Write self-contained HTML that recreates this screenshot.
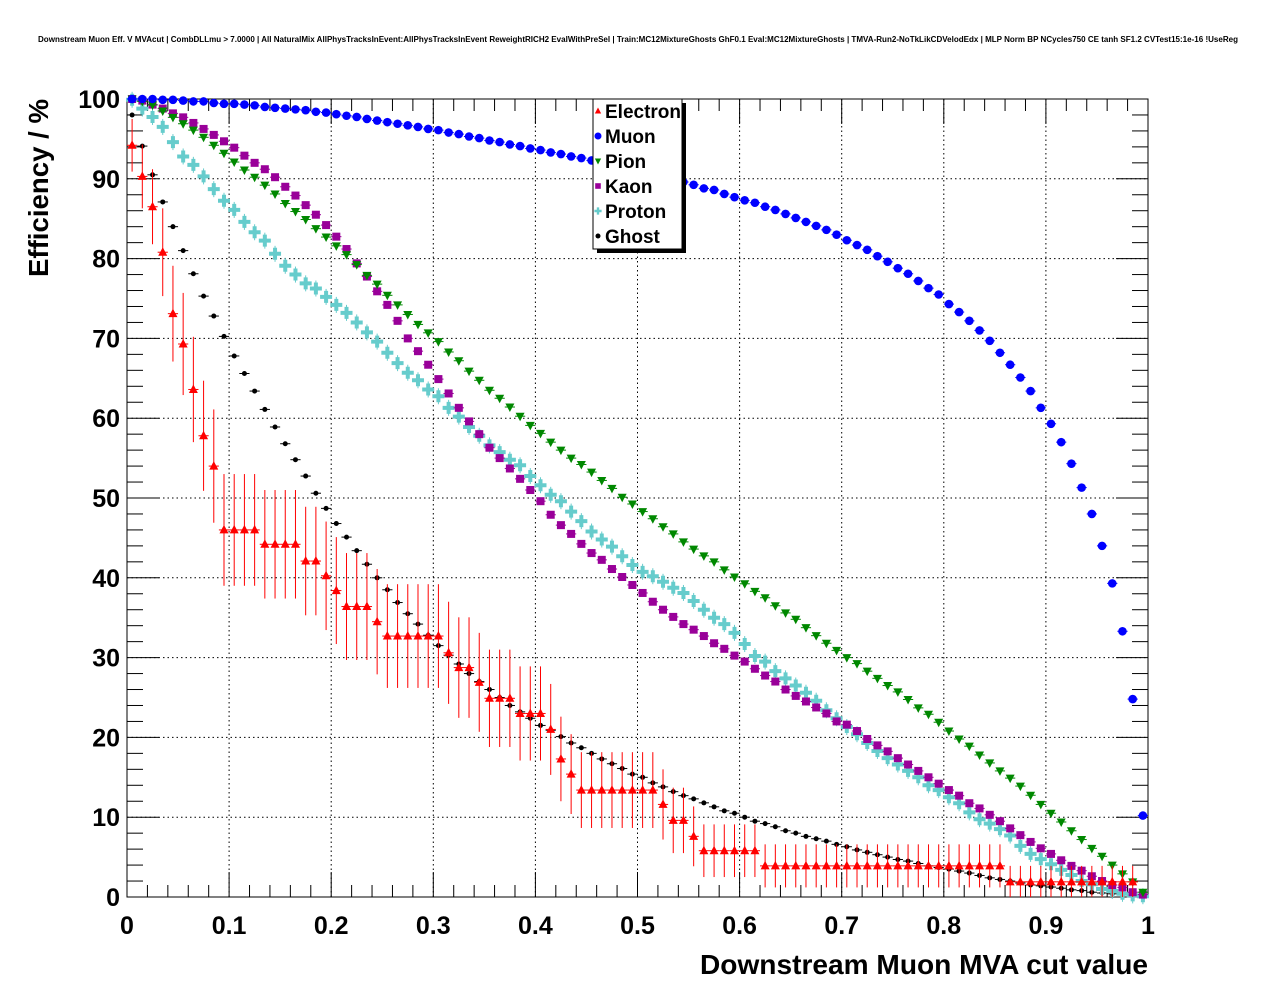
<!DOCTYPE html>
<html><head><meta charset="utf-8"><style>
html,body{margin:0;padding:0;background:#fff;}
svg{display:block;font-family:"Liberation Sans",sans-serif;}
</style></head><body>
<svg id="chart" width="1276" height="996" viewBox="0 0 1276 996" xmlns="http://www.w3.org/2000/svg">
<rect x="0" y="0" width="1276" height="996" fill="#fff"/>
<text x="38" y="42" font-size="8" font-weight="bold" textLength="1200" lengthAdjust="spacingAndGlyphs">Downstream Muon Eff. V MVAcut | CombDLLmu &gt; 7.0000 | All NaturalMix AllPhysTracksInEvent:AllPhysTracksInEvent ReweightRICH2 EvalWithPreSel | Train:MC12MixtureGhosts GhF0.1 Eval:MC12MixtureGhosts | TMVA-Run2-NoTkLikCDVelodEdx | MLP Norm BP NCycles750 CE tanh SF1.2 CVTest15:1e-16 !UseReg</text>
<g id="grid"></g>
<g id="axes"></g>
<g id="series"></g>
<text x="1148" y="974" text-anchor="end" font-size="28" font-weight="bold" textLength="448" lengthAdjust="spacingAndGlyphs">Downstream Muon MVA cut value</text>
<text transform="translate(48,99) rotate(-90)" text-anchor="end" font-size="28" font-weight="bold" textLength="178" lengthAdjust="spacingAndGlyphs">Efficiency / %</text>
<g id="legend">
<rect x="597" y="103" width="89" height="150" fill="#000"/>
<rect x="593" y="99" width="89" height="150" fill="#fff" stroke="#000" stroke-width="1"/>
</g>
</svg>
<script>
const muon=[100,100,100,99.9,99.9,99.8,99.7,99.7,99.5,99.4,
99.4,99.3,99.2,99.0,98.9,98.8,98.7,98.6,98.4,98.3,
98.1,97.9,97.75,97.5,97.3,97.1,96.9,96.7,96.5,96.25,
96.1,95.8,95.6,95.3,95.1,94.8,94.6,94.3,94.1,93.8,
93.6,93.3,93.1,92.8,92.6,92.3,92.0,91.7,91.4,91.1,
90.8,90.5,90.2,89.9,89.6,89.25,88.8,88.6,88.1,87.7,
87.3,87.0,86.5,86.1,85.6,85.1,84.6,84.1,83.6,83.0,
82.3,81.7,81.1,80.3,79.6,78.8,78.1,77.2,76.3,75.5,
74.3,73.3,72.2,71.0,69.7,68.2,66.7,65.1,63.4,61.3,
59.3,57.0,54.3,51.3,48.0,44.0,39.3,33.3,24.8,10.2];
const pion=[100,99.7,99.25,98.5,97.7,96.9,96.1,95.2,94.2,93.2,
92.1,91.1,90.2,89.2,88.1,86.9,85.9,84.9,83.75,82.7,
81.6,80.5,79.25,77.9,76.8,75.4,74.2,73.0,71.75,70.7,
69.6,68.3,67.2,65.9,64.75,63.5,62.5,61.4,60.25,59.1,
58.1,57.0,56.0,55.0,54.2,53.25,52.2,51.2,50.1,49.25,
48.3,47.4,46.4,45.5,44.5,43.6,42.75,42.0,41.0,40.1,
39.25,38.3,37.5,36.5,35.6,34.8,33.75,32.75,31.8,30.9,
30.0,29.25,28.3,27.4,26.5,25.7,24.75,23.7,22.9,21.9,
20.8,19.8,18.9,17.8,16.8,15.8,14.9,13.9,12.75,11.6,
10.5,9.4,8.3,7.2,6.1,5.1,4.0,2.9,1.9,0.6];
const kaon=[100,99.8,99.3,98.8,98.2,97.7,97.0,96.25,95.5,94.7,
93.9,92.9,92.0,91.2,90.2,89.0,87.9,86.7,85.5,84.2,
82.75,81.2,79.4,77.75,75.9,74.2,72.2,70.0,68.4,66.7,
64.9,63.1,61.3,59.6,58.0,56.3,55.0,53.7,52.4,51.0,
49.6,47.9,46.6,45.5,44.25,43.1,42.25,41.1,40.1,39.1,
38.1,37.0,36.0,35.1,34.2,33.5,32.7,31.8,31.1,30.25,
29.5,28.6,27.75,27.0,26.0,25.2,24.5,23.75,23.0,22.0,
21.6,20.8,19.8,19.0,18.25,17.4,16.6,15.8,15.0,14.2,
13.4,12.7,11.75,11.1,10.3,9.5,8.6,7.75,6.9,6.1,
5.4,4.6,3.9,3.3,2.6,2.0,1.5,1.2,0.6,0.3];
const proton=[99.9,98.8,97.75,96.5,94.6,92.8,91.75,90.3,88.7,87.25,
86.1,84.6,83.3,82.25,80.6,79.1,78.0,76.9,76.25,75.2,
74.2,73.2,72.0,70.75,69.6,68.2,66.9,65.7,64.75,63.6,
62.75,61.3,60.2,58.9,57.8,56.6,55.75,54.8,54.1,52.75,
51.6,50.4,49.6,48.3,47.1,45.8,44.8,43.9,42.7,41.6,
40.75,40.2,39.5,38.75,38.1,37.1,36.0,35.0,34.2,33.1,
31.7,30.2,29.5,28.3,27.4,26.5,25.6,24.6,23.4,22.4,
21.3,20.4,19.3,18.3,17.4,16.6,15.8,15.0,14.0,13.4,
12.5,11.75,10.6,9.75,9.2,8.5,7.7,6.4,5.4,4.75,
4.1,3.4,2.75,2.0,1.6,1.0,0.75,0.4,0.2,0.1];
const ghost=[98.0,94.1,90.5,87.1,84.0,81.0,78.1,75.3,72.8,70.25,
67.8,65.6,63.4,61.1,58.9,56.8,54.8,52.75,50.6,48.7,
46.8,45.1,43.4,41.7,40.0,38.5,36.9,35.5,34.2,32.8,
31.5,30.3,29.2,28.0,27.0,26.0,25.0,24.0,23.2,22.4,
21.5,20.9,20.1,19.3,18.7,18.0,17.3,16.7,16.1,15.4,
15.0,14.3,13.8,13.2,12.7,12.3,11.8,11.3,10.8,10.5,
10.0,9.5,9.2,8.8,8.3,8.0,7.6,7.3,7.0,6.6,
6.3,5.9,5.6,5.3,5.0,4.7,4.5,4.2,3.9,3.7,
3.5,3.25,3.0,2.7,2.4,2.2,2.0,1.75,1.5,1.4,
1.25,1.1,0.9,0.8,0.6,0.5,0.4,0.3,0.2,0.1];
const electron=[94.2,90.3,86.5,80.8,73.1,69.3,63.6,57.8,54.0,
46.0,46.0,46.0,46.0,44.2,44.2,44.2,44.2,42.1,42.1,40.25,38.4,
36.4,36.4,36.4,34.5,32.7,32.7,32.7,32.7,32.7,32.7,30.6,28.75,28.75,26.9,
24.9,24.9,24.9,23.0,23.0,23.0,21.0,17.3,15.4,
13.4,13.4,13.4,13.4,13.4,13.4,13.4,13.4,11.6,9.6,9.6,7.6,
5.8,5.8,5.8,5.8,5.8,5.8,
3.9,3.9,3.9,3.9,3.9,3.9,3.9,3.9,3.9,3.9,3.9,3.9,3.9,3.9,3.9,3.9,3.9,3.9,3.9,3.9,3.9,3.9,3.9,3.9,
1.9,1.9,1.9,1.9,1.9,1.9,1.9,1.9,1.9,1.9,1.9,1.9,1.9,null];
const electronErr=[3.3,4,4.7,5.5,6,6.4,6.6,6.9,7.1,
7,7,7,7,6.8,6.8,6.8,6.8,6.8,6.8,6.8,6.7,
6.7,6.7,6.7,6.6,6.5,6.5,6.5,6.5,6.5,6.5,6.4,6.3,6.3,6.2,
6.1,6.1,6.1,5.9,5.9,5.9,5.7,5.3,5.0,
4.75,4.75,4.75,4.75,4.75,4.75,4.75,4.75,4.4,4.1,4.1,3.75,
3.3,3.3,3.3,3.3,3.3,3.3,
2.7,2.7,2.7,2.7,2.7,2.7,2.7,2.7,2.7,2.7,2.7,2.7,2.7,2.7,2.7,2.7,2.7,2.7,2.7,2.7,2.7,2.7,2.7,2.7,
2,2,2,2,2,2,2,2,2,2,2,2,2,0];
const xTicks=[0,0.1,0.2,0.3,0.4,0.5,0.6,0.7,0.8,0.9,1];
const xTickLabels=["0","0.1","0.2","0.3","0.4","0.5","0.6","0.7","0.8","0.9","1"];
const yTicks=[0,10,20,30,40,50,60,70,80,90,100];
const legendNames=["Electron","Muon","Pion","Kaon","Proton","Ghost"];

const NS="http://www.w3.org/2000/svg";
const X0=127,X1=1148,Y0=897,Y1=99;
const sx=v=>X0+(X1-X0)*v;
const sy=v=>Y0-(Y0-Y1)*v/100;
function mk(tag,attrs,parent){const e=document.createElementNS(NS,tag);for(const k in attrs)e.setAttribute(k,attrs[k]);parent.appendChild(e);return e;}
const grid=document.getElementById('grid'),axes=document.getElementById('axes'),ser=document.getElementById('series'),leg=document.getElementById('legend');

xTicks.forEach(t=>{if(t>0&&t<1){const l=mk('line',{x1:sx(t),x2:sx(t),y1:Y1,y2:Y0,stroke:'#000','stroke-width':1,'stroke-dasharray':'1.5,3'},grid);

}});
yTicks.forEach(t=>{if(t>0&&t<100){const l=mk('line',{x1:X0,x2:X1,y1:sy(t),y2:sy(t),stroke:'#000','stroke-width':1,'stroke-dasharray':'1.5,3'},grid);

}});
const fr=mk('rect',{x:X0,y:Y1,width:X1-X0,height:Y0-Y1,fill:'none',stroke:'#000','stroke-width':1},axes);


for(let i=0;i<=50;i++){const v=i/50;const maj=i%5===0;const x=sx(v);
mk('line',{x1:x,x2:x,y1:Y0,y2:Y0-(maj?25:12),stroke:'#000'},axes);
mk('line',{x1:x,x2:x,y1:Y1,y2:Y1+(maj?25:12),stroke:'#000'},axes);}
xTicks.forEach((t,i)=>{const tx=mk('text',{x:sx(t),y:934,'text-anchor':'middle','font-size':25,'font-weight':'bold'},axes);tx.textContent=xTickLabels[i];

});
for(let i=0;i<=50;i++){const v=i*2;const maj=i%5===0;const y=sy(v);
mk('line',{x1:X0,x2:X0+(maj?32:16),y1:y,y2:y,stroke:'#000'},axes);
mk('line',{x1:X1,x2:X1-(maj?32:16),y1:y,y2:y,stroke:'#000'},axes);}
yTicks.forEach(t=>{const tx=mk('text',{x:120,y:sy(t)+9,'text-anchor':'end','font-size':25,'font-weight':'bold'},axes);tx.textContent=String(t);

});

function marker(type,cx,cy,col,g){
 if(type==='tri'){return mk('polygon',{points:`${cx},${cy-5} ${cx-4.5},${cy+3.5} ${cx+4.5},${cy+3.5}`,fill:col},g);}
 if(type==='circ'){return mk('circle',{cx:cx,cy:cy,r:4.3,fill:col},g);}
 if(type==='itri'){return mk('polygon',{points:`${cx-4.5},${cy-3.5} ${cx+4.5},${cy-3.5} ${cx},${cy+5}`,fill:col},g);}
 if(type==='sq'){return mk('rect',{x:cx-4,y:cy-4,width:8,height:8,fill:col},g);}
 if(type==='cross'){return mk('path',{d:`M${cx-6},${cy-2}h4v-4h4v4h4v4h-4v4h-4v-4h-4z`,fill:col},g);}
 if(type==='dot'){return mk('circle',{cx:cx,cy:cy,r:2.5,fill:col},g);}
}
const defs=[
 {name:'electron',data:electron,col:'#ff0000',type:'tri'},
 {name:'muon',data:muon,col:'#0000ff',type:'circ'},
 {name:'pion',data:pion,col:'#008800',type:'itri'},
 {name:'kaon',data:kaon,col:'#990099',type:'sq'},
 {name:'proton',data:proton,col:'#66cccc',type:'cross'},
 {name:'ghost',data:ghost,col:'#000000',type:'dot'}];
const order=[5,4,3,2,1,0];
order.forEach(k=>{const d=defs[k];const g=mk('g',{},ser);
 
 
 d.data.forEach((v,i)=>{if(v===null)return;const xc=(i+0.5)/100;const cx=sx(xc),cy=sy(v);
  mk('line',{x1:sx(i/100),x2:sx((i+1)/100),y1:cy,y2:cy,stroke:d.col,'stroke-width':1},g);
  if(d.name==='electron'){const e=electronErr[i];mk('line',{x1:cx,x2:cx,y1:sy(Math.min(100,v+e)),y2:sy(Math.max(0,v-e)),stroke:d.col,'stroke-width':1},g);}
  if(d.name==='proton'){mk('line',{x1:cx,x2:cx,y1:cy-8,y2:cy+8,stroke:d.col,'stroke-width':1},g);}
  const m=marker(d.type,cx,cy,d.col,g);
  
  
 });
});
legendNames.forEach((n,i)=>{const y=111+25*i;const d=defs[i];
 const m=marker(d.type,598,y,d.col,leg);
 if(d.type==='circ')m.setAttribute('r',3.5);
 if(d.type==='cross')m.setAttribute('transform',`translate(598,${y}) scale(0.6) translate(-598,${-y})`);
 if(d.type==='tri'||d.type==='itri'||d.type==='sq')m.setAttribute('transform',`translate(598,${y}) scale(0.7) translate(-598,${-y})`);
 
 
 const t=mk('text',{x:605,y:y+7,'font-size':19,'font-weight':'bold'},leg);t.textContent=n;
 
 
});
</script>
</body></html>
